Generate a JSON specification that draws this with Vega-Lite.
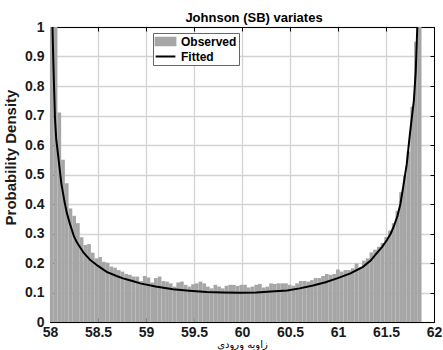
{
  "$schema": "https://vega.github.io/schema/vega-lite/v6.json",
  "width": 384,
  "height": 295,
  "autosize": "none",
  "padding": {"left": 50, "top": 27, "right": 9, "bottom": 28},
  "background": "white",
  "config": {
    "view": {"stroke": null, "fill": null},
    "font": "Liberation Sans",
    "axis": {
      "domain": true,
      "domainColor": "black",
      "domainWidth": 1,
      "tickColor": "black",
      "tickSize": -4,
      "labelFlush": false,
      "labelFont": "Liberation Sans",
      "labelFontSize": 14,
      "labelFontWeight": "bold",
      "labelColor": "#1a1a1a",
      "gridColor": "#d3d3d3",
      "gridWidth": 1.3
    }
  },
  "title": {
    "text": "Johnson (SB) variates",
    "fontSize": 13,
    "fontWeight": "bold",
    "font": "Liberation Sans",
    "color": "black",
    "dx": 12,
    "offset": -5
  },
  "datasets": {
    "hist": [
      {"x0": 58.0000, "x1": 58.0387, "density": 1.8},
      {"x0": 58.0387, "x1": 58.0774, "density": 1.2},
      {"x0": 58.0774, "x1": 58.1161, "density": 0.71},
      {"x0": 58.1161, "x1": 58.1548, "density": 0.55},
      {"x0": 58.1548, "x1": 58.1935, "density": 0.47},
      {"x0": 58.1935, "x1": 58.2322, "density": 0.385},
      {"x0": 58.2322, "x1": 58.2709, "density": 0.36},
      {"x0": 58.2709, "x1": 58.3096, "density": 0.335},
      {"x0": 58.3096, "x1": 58.3483, "density": 0.287},
      {"x0": 58.3483, "x1": 58.3870, "density": 0.261},
      {"x0": 58.3870, "x1": 58.4257, "density": 0.264},
      {"x0": 58.4257, "x1": 58.4644, "density": 0.235},
      {"x0": 58.4644, "x1": 58.5031, "density": 0.216},
      {"x0": 58.5031, "x1": 58.5418, "density": 0.22},
      {"x0": 58.5418, "x1": 58.5805, "density": 0.204},
      {"x0": 58.5805, "x1": 58.6192, "density": 0.201},
      {"x0": 58.6192, "x1": 58.6579, "density": 0.188},
      {"x0": 58.6579, "x1": 58.6966, "density": 0.184},
      {"x0": 58.6966, "x1": 58.7353, "density": 0.176},
      {"x0": 58.7353, "x1": 58.7740, "density": 0.171},
      {"x0": 58.7740, "x1": 58.8127, "density": 0.163},
      {"x0": 58.8127, "x1": 58.8514, "density": 0.16},
      {"x0": 58.8514, "x1": 58.8901, "density": 0.154},
      {"x0": 58.8901, "x1": 58.9288, "density": 0.154},
      {"x0": 58.9288, "x1": 58.9675, "density": 0.139},
      {"x0": 58.9675, "x1": 59.0062, "density": 0.156},
      {"x0": 59.0062, "x1": 59.0449, "density": 0.151},
      {"x0": 59.0449, "x1": 59.0836, "density": 0.134},
      {"x0": 59.0836, "x1": 59.1223, "density": 0.149},
      {"x0": 59.1223, "x1": 59.1610, "density": 0.154},
      {"x0": 59.1610, "x1": 59.1997, "density": 0.139},
      {"x0": 59.1997, "x1": 59.2384, "density": 0.137},
      {"x0": 59.2384, "x1": 59.2771, "density": 0.131},
      {"x0": 59.2771, "x1": 59.3158, "density": 0.12},
      {"x0": 59.3158, "x1": 59.3545, "density": 0.134},
      {"x0": 59.3545, "x1": 59.3932, "density": 0.137},
      {"x0": 59.3932, "x1": 59.4319, "density": 0.126},
      {"x0": 59.4319, "x1": 59.4706, "density": 0.12},
      {"x0": 59.4706, "x1": 59.5093, "density": 0.128},
      {"x0": 59.5093, "x1": 59.5480, "density": 0.131},
      {"x0": 59.5480, "x1": 59.5867, "density": 0.137},
      {"x0": 59.5867, "x1": 59.6254, "density": 0.131},
      {"x0": 59.6254, "x1": 59.6641, "density": 0.12},
      {"x0": 59.6641, "x1": 59.7028, "density": 0.114},
      {"x0": 59.7028, "x1": 59.7415, "density": 0.126},
      {"x0": 59.7415, "x1": 59.7802, "density": 0.12},
      {"x0": 59.7802, "x1": 59.8189, "density": 0.114},
      {"x0": 59.8189, "x1": 59.8576, "density": 0.123},
      {"x0": 59.8576, "x1": 59.8963, "density": 0.126},
      {"x0": 59.8963, "x1": 59.9350, "density": 0.126},
      {"x0": 59.9350, "x1": 59.9737, "density": 0.122},
      {"x0": 59.9737, "x1": 60.0124, "density": 0.126},
      {"x0": 60.0124, "x1": 60.0511, "density": 0.126},
      {"x0": 60.0511, "x1": 60.0898, "density": 0.117},
      {"x0": 60.0898, "x1": 60.1285, "density": 0.12},
      {"x0": 60.1285, "x1": 60.1672, "density": 0.126},
      {"x0": 60.1672, "x1": 60.2059, "density": 0.129},
      {"x0": 60.2059, "x1": 60.2446, "density": 0.117},
      {"x0": 60.2446, "x1": 60.2833, "density": 0.12},
      {"x0": 60.2833, "x1": 60.3220, "density": 0.131},
      {"x0": 60.3220, "x1": 60.3607, "density": 0.129},
      {"x0": 60.3607, "x1": 60.3994, "density": 0.131},
      {"x0": 60.3994, "x1": 60.4381, "density": 0.131},
      {"x0": 60.4381, "x1": 60.4768, "density": 0.131},
      {"x0": 60.4768, "x1": 60.5155, "density": 0.126},
      {"x0": 60.5155, "x1": 60.5542, "density": 0.123},
      {"x0": 60.5542, "x1": 60.5929, "density": 0.131},
      {"x0": 60.5929, "x1": 60.6316, "density": 0.139},
      {"x0": 60.6316, "x1": 60.6703, "density": 0.139},
      {"x0": 60.6703, "x1": 60.7090, "density": 0.137},
      {"x0": 60.7090, "x1": 60.7477, "density": 0.142},
      {"x0": 60.7477, "x1": 60.7864, "density": 0.149},
      {"x0": 60.7864, "x1": 60.8251, "density": 0.149},
      {"x0": 60.8251, "x1": 60.8638, "density": 0.156},
      {"x0": 60.8638, "x1": 60.9025, "density": 0.163},
      {"x0": 60.9025, "x1": 60.9412, "density": 0.16},
      {"x0": 60.9412, "x1": 60.9799, "density": 0.163},
      {"x0": 60.9799, "x1": 61.0186, "density": 0.178},
      {"x0": 61.0186, "x1": 61.0573, "density": 0.171},
      {"x0": 61.0573, "x1": 61.0960, "density": 0.176},
      {"x0": 61.0960, "x1": 61.1347, "density": 0.176},
      {"x0": 61.1347, "x1": 61.1734, "density": 0.182},
      {"x0": 61.1734, "x1": 61.2121, "density": 0.198},
      {"x0": 61.2121, "x1": 61.2508, "density": 0.185},
      {"x0": 61.2508, "x1": 61.2895, "density": 0.208},
      {"x0": 61.2895, "x1": 61.3282, "density": 0.216},
      {"x0": 61.3282, "x1": 61.3669, "density": 0.236},
      {"x0": 61.3669, "x1": 61.4056, "density": 0.245},
      {"x0": 61.4056, "x1": 61.4443, "density": 0.255},
      {"x0": 61.4443, "x1": 61.4830, "density": 0.268},
      {"x0": 61.4830, "x1": 61.5217, "density": 0.288},
      {"x0": 61.5217, "x1": 61.5604, "density": 0.31},
      {"x0": 61.5604, "x1": 61.5991, "density": 0.335},
      {"x0": 61.5991, "x1": 61.6378, "density": 0.377},
      {"x0": 61.6378, "x1": 61.6765, "density": 0.44},
      {"x0": 61.6765, "x1": 61.7152, "density": 0.495},
      {"x0": 61.7152, "x1": 61.7539, "density": 0.578},
      {"x0": 61.7539, "x1": 61.7926, "density": 0.73},
      {"x0": 61.7926, "x1": 61.8313, "density": 0.95},
      {"x0": 61.8313, "x1": 61.8700, "density": 1.6}
    ],
    "fit": [
      {"x": 58.020, "density": 1.2},
      {"x": 58.026, "density": 1.0},
      {"x": 58.034, "density": 0.89},
      {"x": 58.042, "density": 0.80},
      {"x": 58.052, "density": 0.69},
      {"x": 58.065, "density": 0.62},
      {"x": 58.083, "density": 0.57},
      {"x": 58.104, "density": 0.51},
      {"x": 58.118, "density": 0.47},
      {"x": 58.150, "density": 0.41},
      {"x": 58.175, "density": 0.37},
      {"x": 58.210, "density": 0.33},
      {"x": 58.250, "density": 0.29},
      {"x": 58.280, "density": 0.27},
      {"x": 58.350, "density": 0.235},
      {"x": 58.420, "density": 0.21},
      {"x": 58.500, "density": 0.19},
      {"x": 58.590, "density": 0.17},
      {"x": 58.700, "density": 0.155},
      {"x": 58.760, "density": 0.148},
      {"x": 58.850, "density": 0.14},
      {"x": 58.940, "density": 0.131},
      {"x": 59.100, "density": 0.12},
      {"x": 59.280, "density": 0.111},
      {"x": 59.450, "density": 0.106},
      {"x": 59.630, "density": 0.102},
      {"x": 59.800, "density": 0.1},
      {"x": 59.980, "density": 0.099},
      {"x": 60.150, "density": 0.1},
      {"x": 60.300, "density": 0.103},
      {"x": 60.470, "density": 0.107},
      {"x": 60.600, "density": 0.114},
      {"x": 60.740, "density": 0.124},
      {"x": 60.870, "density": 0.135},
      {"x": 60.990, "density": 0.148},
      {"x": 61.130, "density": 0.165},
      {"x": 61.260, "density": 0.187},
      {"x": 61.340, "density": 0.208},
      {"x": 61.400, "density": 0.232},
      {"x": 61.460, "density": 0.255},
      {"x": 61.510, "density": 0.278},
      {"x": 61.550, "density": 0.30},
      {"x": 61.580, "density": 0.323},
      {"x": 61.620, "density": 0.36},
      {"x": 61.650, "density": 0.40},
      {"x": 61.680, "density": 0.46},
      {"x": 61.716, "density": 0.535},
      {"x": 61.750, "density": 0.64},
      {"x": 61.790, "density": 0.75},
      {"x": 61.810, "density": 0.85},
      {"x": 61.826, "density": 1.0},
      {"x": 61.835, "density": 1.1}
    ]
  },
  "layer": [
    {
      "data": {"name": "hist"},
      "mark": {"type": "rect", "clip": true},
      "encoding": {
        "x": {
          "field": "x0",
          "type": "quantitative",
          "scale": {"domain": [58, 62], "nice": false, "zero": false},
          "axis": {
            "orient": "bottom",
            "values": [58, 58.5, 59, 59.5, 60, 60.5, 61, 61.5, 62],
            "format": "~g",
            "labelPadding": 7,
            "title": "زاویه ورودی",
            "titleFont": "DejaVu Sans",
            "titleFontSize": 10,
            "titleFontWeight": "normal",
            "titleColor": "black",
            "titlePadding": 0,
            "grid": true
          }
        },
        "x2": {"field": "x1"},
        "y": {
          "field": "density",
          "type": "quantitative",
          "scale": {"domain": [0, 1], "nice": false},
          "axis": {
            "orient": "left",
            "values": [0, 0.1, 0.2, 0.3, 0.4, 0.5, 0.6, 0.7, 0.8, 0.9, 1],
            "format": "~g",
            "labelPadding": 10,
            "title": "Probability Density",
            "titleFont": "Liberation Sans",
            "titleFontSize": 15,
            "titleFontWeight": "bold",
            "titleColor": "#1a1a1a",
            "titlePadding": 6,
            "titleY": 130,
            "grid": true
          }
        },
        "y2": {"datum": 0},
        "color": {
          "datum": "Observed",
          "type": "nominal",
          "scale": {"domain": ["Observed", "Fitted"], "range": ["#a6a6a6", "#000000"]},
          "legend": {
            "orient": "none",
            "legendX": 103,
            "legendY": 6,
            "title": null,
            "strokeColor": "#666666",
            "fillColor": "white",
            "padding": 2,
            "rowPadding": 0,
            "labelFont": "Liberation Sans",
            "labelFontSize": 12,
            "labelFontWeight": "bold",
            "labelColor": "black",
            "labelOffset": 9,
            "symbolSize": 121,
            "symbolOffset": 4,
            "encode": {
              "symbols": {
                "update": {
                  "shape": {"signal": "datum.value === 'Fitted' ? 'M-1.8,0H1.8' : 'M-1.8,-0.7H1.8V0.7H-1.8Z'"},
                  "fill": {"signal": "datum.value === 'Fitted' ? 'transparent' : '#a6a6a6'"},
                  "stroke": {"signal": "datum.value === 'Fitted' ? 'black' : 'transparent'"},
                  "strokeWidth": {"value": 2},
                  "opacity": {"value": 1}
                }
              }
            }
          }
        }
      }
    },
    {
      "data": {"name": "fit"},
      "mark": {"type": "line", "clip": true, "strokeWidth": 2},
      "encoding": {
        "x": {
          "field": "x",
          "type": "quantitative",
          "axis": {"orient": "top", "values": [58, 58.5, 59, 59.5, 60, 60.5, 61, 61.5, 62], "labels": false, "grid": false, "title": null}
        },
        "y": {
          "field": "density",
          "type": "quantitative",
          "axis": {"orient": "right", "values": [0, 0.1, 0.2, 0.3, 0.4, 0.5, 0.6, 0.7, 0.8, 0.9, 1], "labels": false, "grid": false, "title": null}
        },
        "color": {"datum": "Fitted", "type": "nominal"}
      }
    }
  ],
  "resolve": {"axis": {"x": "independent", "y": "independent"}}
}
